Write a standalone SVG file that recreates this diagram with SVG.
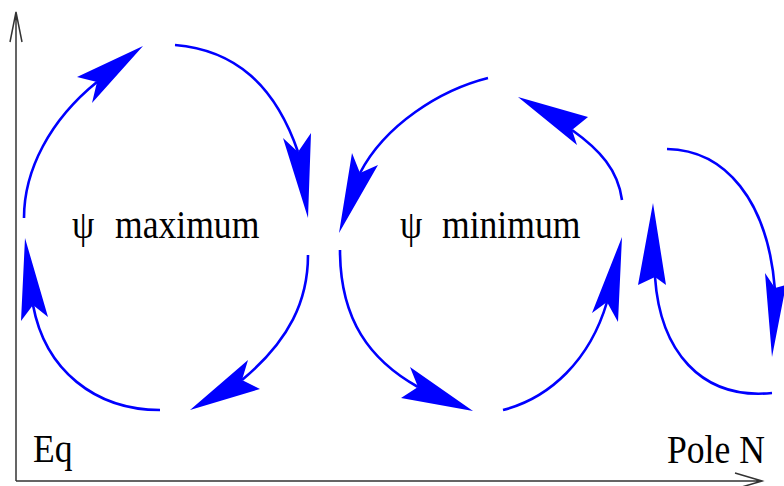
<svg xmlns="http://www.w3.org/2000/svg" width="784" height="486" viewBox="0 0 784 486">
<style>
.ax{fill:none;stroke:#333;stroke-width:1.5}
.c{fill:none;stroke:#0000ff;stroke-width:2.6}
.h{fill:#0000ff;stroke:none}
.t{font-family:"Liberation Serif","Times New Roman",serif;font-size:40px;fill:#000}
</style>
<rect width="784" height="486" fill="#fff"/>
<g id="axes">
<path class="ax" d="M16,481 L16,12 M10,42 L16,12 L22,42"/>
<path class="ax" d="M16,481 L762,481 M735,473 L762,481 L735,489"/>
</g>
<g id="label-eq"><text class="t" transform="translate(33,462) scale(0.89,1)">Eq</text></g>
<g id="label-pole"><text class="t" transform="translate(667,463) scale(0.89,1)">Pole N</text></g>
<g id="label-max"><text class="t" transform="translate(72,238) scale(0.89,1)">ψ</text><text class="t" transform="translate(115,238) scale(0.89,1)">maximum</text></g>
<g id="label-min"><text class="t" transform="translate(400,238) scale(0.89,1)">ψ</text><text class="t" transform="translate(442,238) scale(0.89,1)">minimum</text></g>
<g id="connectors">
<path class="c" d="M24,218 C24,170 50,120 97,82"/>
<polygon class="h" points="143,46 77,77 97,82 92,103"/>
<path class="c" d="M175,45 C235,50 275,85 298,152"/>
<polygon class="h" points="308,218 283,138 298,152 311,133"/>
<path class="c" d="M308,255 C308,300 290,340 242,380"/>
<polygon class="h" points="190,410 248,360 242,380 260,389"/>
<path class="c" d="M160,410 C95,410 45,370 33,305"/>
<polygon class="h" points="25,238 21,321 33,305 48,317"/>
<path class="c" d="M488,78 C440,90 385,125 360,173"/>
<polygon class="h" points="339,233 352,153 360,173 378,165"/>
<path class="c" d="M340,250 C340,320 370,360 418,387"/>
<polygon class="h" points="473,411 410,367 418,387 401,398"/>
<path class="c" d="M503,410 C550,398 590,360 607,302"/>
<polygon class="h" points="622,237 592,313 607,302 618,322"/>
<path class="c" d="M622,200 C618,170 600,150 572,130"/>
<polygon class="h" points="518,97 577,145 572,130 588,117"/>
<path class="c" d="M667,149 C725,150 768,200 775,290"/>
<polygon class="h" points="772,357 765,273 775,288 786,285"/>
<path class="c" d="M772,393 C700,400 660,350 655,277"/>
<polygon class="h" points="653,203 638,285 655,277 666,285"/>
</g>
</svg>
